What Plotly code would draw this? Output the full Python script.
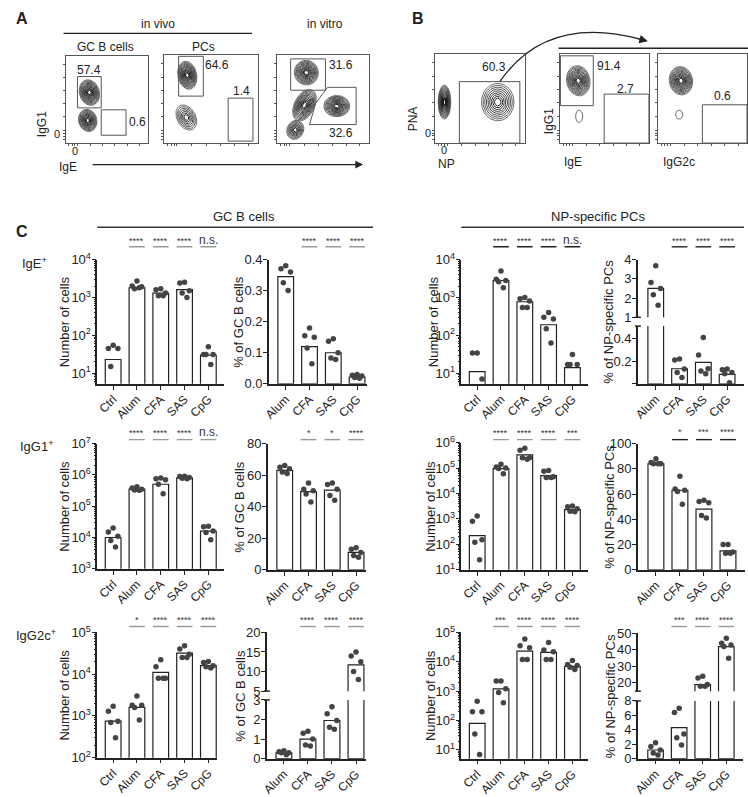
import plotly.graph_objects as go
import numpy as np

W, H = 748, 797
FONT = "Liberation Sans, Arial, sans-serif"

# ------------------------------------------------------------------ data (panel C)
cats5 = ["Ctrl", "Alum", "CFA", "SAS", "CpG"]
cats4 = ["Alum", "CFA", "SAS", "CpG"]

ige_gc_num_bar = [23, 1800, 1300, 1600, 30]
ige_gc_num_pts = [[55, 45, 45, 15, 0], [2700, 2000, 1900, 1700, 1800],
                  [1700, 1600, 1300, 1100, 1100], [2500, 2400, 1500, 1300, 1000],
                  [50, 31, 31, 31, 17]]
ige_gc_pct_bar = [0.345, 0.12, 0.10, 0.022]
ige_gc_pct_pts = [[0.38, 0.37, 0.36, 0.325, 0.30], [0.18, 0.155, 0.15, 0.115, 0.065],
                  [0.145, 0.137, 0.10, 0.083, 0.078], [0.03, 0.028, 0.025, 0.02, 0.018]]
ige_np_num_bar = [11, 2800, 770, 190, 14]
ige_np_num_pts = [[34, 34, 7, 0, 0], [5000, 3000, 2800, 2600, 1800],
                  [1000, 930, 800, 540, 540], [400, 300, 270, 150, 63],
                  [31, 17, 17, 17, 0]]
ige_np_pct_bar = [2.5, 0.133, 0.19, 0.084]
ige_np_pct_pts = [[3.68, 2.81, 2.5, 2.17, 1.63], [0.22, 0.21, 0.13, 0.10, 0.055],
                  [0.41, 0.255, 0.133, 0.113, 0.09], [0.13, 0.125, 0.10, 0.09, 0.01]]

igg1_gc_num_bar = [10000, 350000, 500000, 800000, 16000]
igg1_gc_num_pts = [[20000, 15000, 11000, 8000, 5000], [420000, 380000, 350000, 330000, 320000],
                   [800000, 750000, 700000, 500000, 250000], [900000, 880000, 820000, 780000, 750000],
                   [23000, 22000, 16000, 14500, 8500]]
igg1_gc_pct_bar = [63, 49.5, 50.5, 11]
igg1_gc_pct_pts = [[66, 65, 64, 62, 61], [55, 51, 50, 48, 43],
                   [55, 54, 51, 47, 44], [14, 13, 11, 9, 8]]
igg1_np_num_bar = [220, 95000, 330000, 50000, 2300]
igg1_np_num_pts = [[1300, 800, 150, 120, 25], [140000, 110000, 100000, 95000, 60000],
                   [600000, 500000, 250000, 250000, 220000], [80000, 75000, 45000, 42000, 42000],
                   [3200, 3000, 2500, 2000, 1900]]
igg1_np_pct_bar = [84, 63, 48, 15]
igg1_np_pct_pts = [[88, 85, 84, 84, 84], [74, 64, 63, 62, 52],
                   [55, 54, 53, 43, 41], [20, 20, 14, 13, 13]]

igg2c_gc_num_bar = [750, 1600, 11000, 32000, 16000]
igg2c_gc_num_pts = [[1700, 1300, 750, 700, 300], [3000, 1800, 1800, 1600, 800],
                    [22000, 15000, 8000, 8000, 8000], [48000, 40000, 30000, 25000, 25000],
                    [20000, 19000, 16000, 15000, 14000]]
igg2c_gc_pct_bar = [0.3, 1.0, 1.95, 11.7]
igg2c_gc_pct_pts = [[0.4, 0.35, 0.3, 0.3, 0.2], [1.4, 1.3, 1.0, 0.7, 0.65],
                    [2.65, 2.3, 1.95, 1.6, 1.5], [15, 14, 12.5, 10, 8]]
igg2c_np_num_bar = [80, 1200, 23000, 21000, 7000]
igg2c_np_num_pts = [[450, 200, 200, 35, 7], [2200, 2200, 1200, 900, 400],
                    [60000, 35000, 30000, 12000, 12000], [45000, 25000, 22000, 12000, 12000],
                    [11000, 8000, 7500, 6500, 5500]]
igg2c_np_pct_bar = [1.2, 4.3, 19, 42]
igg2c_np_pct_pts = [[2.2, 1.7, 1.2, 0.8, 0.5], [7.0, 6.4, 3.4, 2.9, 1.9],
                    [24, 23, 19, 18, 18], [47, 44, 43, 42, 35]]

sig_r1_gc_num = ["****", "****", "****", "n.s."]
sig_r1_gc_pct = ["****", "****", "****"]
sig_r1_np_num = ["****", "****", "****", "n.s."]
sig_r1_np_pct = ["****", "****", "****"]
sig_r2_gc_num = ["****", "****", "****", "n.s."]
sig_r2_gc_pct = ["*", "*", "****"]
sig_r2_np_num = ["****", "****", "****", "***"]
sig_r2_np_pct = ["*", "***", "****"]
sig_r3_gc_num = ["*", "****", "****", "****"]
sig_r3_gc_pct = ["****", "****", "****"]
sig_r3_np_num = ["***", "****", "****", "****"]
sig_r3_np_pct = ["***", "****", "****"]

# ------------------------------------------------------------------ data (flow panels A/B)
# populations: (x, y, rx, ry, tilt_deg, nlevels) in panel-normalised units
flow_A_gc_pops = [(0.29, 0.58, 0.12, 0.15, 20, 13), (0.27, 0.26, 0.11, 0.13, 20, 12)]
flow_A_pc_pops = [(0.25, 0.77, 0.10, 0.16, 10, 13), (0.24, 0.29, 0.10, 0.15, 25, 7)]
flow_A_vitro_pops = [(0.32, 0.80, 0.13, 0.14, 10, 12), (0.30, 0.43, 0.11, 0.19, -25, 12),
                     (0.65, 0.42, 0.14, 0.12, 0, 12), (0.20, 0.15, 0.09, 0.11, -20, 8)]
flow_B_np_pops = [(0.11, 0.46, 0.07, 0.19, 0, 14), (0.70, 0.46, 0.18, 0.21, 0, 9)]
flow_B_ige_pops = [(0.21, 0.70, 0.13, 0.17, 10, 12), (0.22, 0.30, 0.04, 0.07, 0, 1)]
flow_B_igg2c_pops = [(0.26, 0.70, 0.13, 0.16, 10, 12), (0.24, 0.32, 0.04, 0.05, 0, 1)]

flow_A_gc_gates = [(0.145, 0.404, 0.434, 0.764), (0.434, 0.09, 0.735, 0.382)]
flow_A_pc_gates = [(0.158, 0.533, 0.42, 0.985), (0.684, 0.022, 0.947, 0.51)]
flow_A_vitro_gates = [(0.15, 0.60, 0.527, 0.956)]
flow_A_vitro_polys = [[(0.355, 0.21), (0.86, 0.21), (0.86, 0.633), (0.55, 0.633), (0.42, 0.45)]]
flow_B_np_gates = [(0.275, 0.0, 0.945, 0.69)]
flow_B_ige_gates = [(0.01, 0.42, 0.378, 0.98), (0.50, 0.0, 1.0, 0.55)]
flow_B_igg2c_gates = [(0.50, 0.0, 1.0, 0.43)]

flow_A_gc_labels = [("57.4", 0.29, 0.84), ("0.6", 0.88, 0.24)]
flow_A_pc_labels = [("64.6", 0.57, 0.89), ("1.4", 0.82, 0.59)]
flow_A_vitro_labels = [("31.6", 0.70, 0.89), ("32.6", 0.70, 0.11)]
flow_B_np_labels = [("60.3", 0.66, 0.85)]
flow_B_ige_labels = [("91.4", 0.55, 0.87), ("2.7", 0.74, 0.61)]
flow_B_igg2c_labels = [("0.6", 0.73, 0.53)]

# ------------------------------------------------------------------ figure scaffolding
layout = dict(width=W, height=H, margin=dict(l=0, r=0, t=0, b=0),
              paper_bgcolor="white", plot_bgcolor="white", showlegend=False,
              font=dict(family=FONT, size=12, color="#222"))
traces, shapes, annots = [], [], []
counter = [0]


def px(x):
    return x / W


def py(y):
    return 1 - y / H


def new_axes(xpx, ypx, xkw, ykw):
    counter[0] += 1
    i = counter[0]
    xs = "x" if i == 1 else f"x{i}"
    ys = "y" if i == 1 else f"y{i}"
    layout["xaxis" if i == 1 else f"xaxis{i}"] = dict(domain=[px(xpx[0]), px(xpx[1])], anchor=ys,
                                                      fixedrange=True, showgrid=False, zeroline=False, **xkw)
    layout["yaxis" if i == 1 else f"yaxis{i}"] = dict(domain=[py(ypx[1]), py(ypx[0])], anchor=xs,
                                                      fixedrange=True, showgrid=False, zeroline=False, **ykw)
    return xs, ys


def text(t, x, y, size=12, angle=0, xanchor="center", yanchor="middle", color="#222", bold=False):
    if bold:
        t = f"<b>{t}</b>"
    annots.append(dict(text=t, x=px(x), y=py(y), xref="paper", yref="paper", showarrow=False,
                       font=dict(size=size, color=color, family=FONT), textangle=angle,
                       xanchor=xanchor, yanchor=yanchor))


def hline(x0, x1, y, color="#222", width=1.2):
    shapes.append(dict(type="line", xref="paper", yref="paper", x0=px(x0), x1=px(x1),
                       y0=py(y), y1=py(y), line=dict(color=color, width=width)))


def arrow(x_head, y_head, x_tail, y_tail, size=1.2):
    annots.append(dict(x=px(x_head), y=py(y_head), ax=x_tail - x_head, ay=y_tail - y_head,
                       xref="paper", yref="paper", axref="pixel", ayref="pixel", showarrow=True,
                       arrowhead=2, arrowsize=size, arrowwidth=1.3, arrowcolor="#222", text=""))


# ------------------------------------------------------------------ flow panels
flow_ticks = [0.04, 0.08, 0.11, 0.14, 0.3, 0.45, 0.6, 0.75, 0.9]


def flow_panel(xpx, ypx, pops, gates, labels, polys=()):
    ax = dict(range=[0, 1], showline=True, mirror=True, linecolor="#555", linewidth=1,
              ticks="outside", ticklen=2, tickcolor="#555", tickvals=flow_ticks, showticklabels=False)
    xs, ys = new_axes(xpx, ypx, dict(ax), dict(ax))
    t = np.linspace(0, 2 * np.pi, 60)
    for (cx, cy, rx, ry, tilt, nl) in pops:
        a = np.deg2rad(tilt)
        for k in range(nl):
            s = 1.0 - k / max(nl, 1) * 0.9
            ex = rx * s * np.cos(t)
            ey = ry * s * np.sin(t)
            xx = cx + ex * np.cos(a) - ey * np.sin(a)
            yy = cy + ex * np.sin(a) + ey * np.cos(a)
            g = int(90 - 85 * k / max(nl - 1, 1))
            traces.append(go.Scatter(x=xx, y=yy, mode="lines", xaxis=xs, yaxis=ys,
                                     line=dict(color=f"rgb({g},{g},{g})", width=0.9),
                                     hoverinfo="skip"))
    for (x0, y0, x1, y1) in gates:
        shapes.append(dict(type="rect", xref=xs, yref=ys, x0=x0, y0=y0, x1=x1, y1=y1,
                           line=dict(color="#555", width=1)))
    for poly in polys:
        path = "M " + " L ".join(f"{p[0]},{p[1]}" for p in poly) + " Z"
        shapes.append(dict(type="path", xref=xs, yref=ys, path=path, line=dict(color="#555", width=1)))
    for (lab, lx, ly) in labels:
        annots.append(dict(text=lab, x=lx, y=ly, xref=xs, yref=ys, showarrow=False,
                           font=dict(size=12, family=FONT, color="#222")))


flow_panel((60, 143), (48, 137), flow_A_gc_pops, flow_A_gc_gates, flow_A_gc_labels)
flow_panel((159, 254), (47, 137), flow_A_pc_pops, flow_A_pc_gates, flow_A_pc_labels)
flow_panel((273, 366), (47, 137), flow_A_vitro_pops, flow_A_vitro_gates, flow_A_vitro_labels,
           flow_A_vitro_polys)
flow_panel((432, 523), (46, 137), flow_B_np_pops, flow_B_np_gates, flow_B_np_labels)
flow_panel((558, 648), (46, 137), flow_B_ige_pops, flow_B_ige_gates, flow_B_ige_labels)
flow_panel((657, 747), (46, 137), flow_B_igg2c_pops, flow_B_igg2c_gates, flow_B_igg2c_labels)

# panel A texts
text("A", 8, 10, size=16, xanchor="left", bold=True)
text("in vivo", 153, 15, size=12)
hline(58, 248, 25, color="#222", width=1.2)
text("in vitro", 322, 15, size=12)
text("GC B cells", 100, 39, size=12)
text("PCs", 199, 39, size=12)
text("IgG1", 37, 118, size=12, angle=-90)
text("0", 51, 128, size=11)
text("0", 70, 145, size=11)
text("IgE", 62, 161, size=12)
arrow(360, 159, 88, 159)

# panel B texts
text("B", 407, 10, size=16, xanchor="left", bold=True)
text("PNA", 410, 112, size=12, angle=-90)
text("0", 425, 127, size=11)
text("0", 442, 144, size=11)
text("NP", 444, 158, size=12)
text("IgG1", 547, 115, size=12, angle=-90)
text("IgE", 572, 156, size=12)
text("IgG2c", 678, 156, size=12)
hline(557, 748, 40, color="#222", width=1.5)
shapes.append(dict(type="path", xref="paper", yref="paper",
                   path=f"M {px(498)},{py(74)} Q {px(545)},{py(5)} {px(640)},{py(31)}",
                   line=dict(color="#222", width=1.3)))
arrow(647, 33, 636, 30, size=1.3)

# ------------------------------------------------------------------ bar panels (C)
OFFS = [0.0, -0.2, 0.2, -0.1, 0.1]
AXC = "#222"


def logticks(lo, hi):
    vals = [10 ** k for k in range(lo, hi + 1)]
    txt = [f"10<sup>{k}</sup>" for k in range(lo, hi + 1)]
    return vals, txt


def bar_panel(xpx, xrng, cats, bars, pts, seg, sig, sig_col, sig_ypx, ytitle, ytitle_x):
    """seg: list of dicts (bottom segment first): ypx, type, range, tickvals, ticktext"""
    idx = list(range(len(cats)))
    axes_list = []
    for si, sg in enumerate(seg):
        bottom = si == 0
        xkw = dict(range=xrng, tickvals=idx, ticktext=cats if bottom else None,
                   showticklabels=bottom, tickangle=-45, ticks="outside" if bottom else "",
                   ticklen=4, tickwidth=1.3, tickcolor=AXC, showline=bottom, linecolor=AXC,
                   linewidth=1.5, tickfont=dict(size=12, family=FONT, color="#222"),
                   ticklabelstandoff=-2)
        ykw = dict(type=sg["type"], range=sg["range"], tickvals=sg["tickvals"], ticktext=sg["ticktext"],
                   ticks="outside", ticklen=4, tickwidth=1.3, tickcolor=AXC, showline=True,
                   linecolor=AXC, linewidth=1.5, tickfont=dict(size=13, family=FONT, color="#222"),
                   ticklabelstandoff=-2)
        if sg["type"] == "log":
            ykw["minor"] = dict(ticks="outside", ticklen=2, tickcolor=AXC, dtick="D1", showgrid=False)
        xs, ys = new_axes(xpx, sg["ypx"], xkw, ykw)
        axes_list.append((xs, ys, sg))
        traces.append(go.Bar(x=idx, y=bars, width=0.66, xaxis=xs, yaxis=ys,
                             marker=dict(color="white", line=dict(color="#222", width=1.2)),
                             hoverinfo="skip"))
    # points
    for sgi, (xs, ys, sg) in enumerate(axes_list):
        dx, dy, zx, zy = [], [], [], []
        lo, hi = sg["range"]
        if sg["type"] == "log":
            lo, hi = 10 ** lo, 10 ** hi
        for i, grp in enumerate(pts):
            for j, v in enumerate(grp):
                if v == 0:
                    if sgi == 0:
                        zx.append(i + OFFS[j] * 0.6)
                        zy.append(lo)
                    continue
                if sgi == 0:
                    in_seg = v <= hi or len(axes_list) == 1
                else:
                    in_seg = v > axes_list[0][2]["top"]
                if in_seg:
                    dx.append(i + OFFS[j])
                    dy.append(v)
        traces.append(go.Scatter(x=dx, y=dy, mode="markers", xaxis=xs, yaxis=ys,
                                 marker=dict(size=5.5, color="#444"), hoverinfo="skip",
                                 cliponaxis=False))
        if zx:
            traces.append(go.Scatter(x=zx, y=zy, mode="markers", xaxis=xs, yaxis=ys,
                                     marker=dict(size=5, symbol="x-thin-open", line=dict(color="#444", width=1.2)),
                                     hoverinfo="skip", cliponaxis=False))
    # break marks
    if len(seg) > 1:
        ax_x = xpx[0]
        hline(ax_x - 3, ax_x + 3, seg[0]["ypx"][0], color=AXC, width=1.5)
        hline(ax_x - 3, ax_x + 3, seg[1]["ypx"][1], color=AXC, width=1.5)
    # significance
    xs0 = axes_list[0][0]
    offset = len(cats) - len(sig)
    for k, s in enumerate(sig):
        i = k + offset
        is_ns = s == "n.s."
        annots.append(dict(text=s, x=i, y=py(sig_ypx[0] - (1 if is_ns else 0)), xref=xs0, yref="paper",
                           showarrow=False, font=dict(size=12 if is_ns else 9, family=FONT, color="#333"),
                           yanchor="middle"))
        shapes.append(dict(type="line", xref=xs0, yref="paper", x0=i - 0.33, x1=i + 0.33,
                           y0=py(sig_ypx[1]), y1=py(sig_ypx[1]), line=dict(color=sig_col, width=1.4)))
    # y title
    text(ytitle, ytitle_x, (seg[-1]["ypx"][0] + seg[0]["ypx"][1]) / 2, size=13, angle=-90)


GRAY = "#999"
BLACK = "#222"
X5 = (-0.667, 4.667)
X4 = (-0.708, 3.42)
X4n = (-0.75, 3.71)

# ---- row 1 (IgE+)
v, t = logticks(1, 4)
bar_panel((92, 220), X5, cats5, ige_gc_num_bar, ige_gc_num_pts,
          [dict(ypx=(256, 383), type="log", range=[0.72, 4], tickvals=v, ticktext=t)],
          sig_r1_gc_num, GRAY, (237, 243), "Number of cells", 59)
bar_panel((265, 364), X4, cats4, ige_gc_pct_bar, ige_gc_pct_pts,
          [dict(ypx=(256, 383), type="linear", range=[0, 0.4], tickvals=[0, 0.1, 0.2, 0.3, 0.4],
                ticktext=["0.0", "0.1", "0.2", "0.3", "0.4"])],
          sig_r1_gc_pct, GRAY, (237, 243), "% of GC B cells", 235)
bar_panel((459, 587), X5, cats5, ige_np_num_bar, ige_np_num_pts,
          [dict(ypx=(256, 383), type="log", range=[0.72, 4], tickvals=v, ticktext=t)],
          sig_r1_np_num, BLACK, (237, 243), "Number of cells", 431)
bar_panel((637, 744), X4n, cats4, ige_np_pct_bar, ige_np_pct_pts,
          [dict(ypx=(324, 383), type="linear", range=[0, 0.51], tickvals=[0, 0.2, 0.4],
                ticktext=["", "0.2", "0.4"], top=0.51),
           dict(ypx=(256, 315), type="linear", range=[1, 4], tickvals=[1, 2, 3, 4],
                ticktext=["1", "2", "3", "4"], top=4)],
          sig_r1_np_pct, BLACK, (237, 243), "% of NP-specific PCs", 608)

# ---- row 2 (IgG1+)
v, t = logticks(3, 7)
bar_panel((92, 220), X5, cats5, igg1_gc_num_bar, igg1_gc_num_pts,
          [dict(ypx=(444, 572), type="log", range=[3, 7], tickvals=v, ticktext=t)],
          sig_r2_gc_num, GRAY, (433, 440), "Number of cells", 59)
bar_panel((264, 363), X4, cats4, igg1_gc_pct_bar, igg1_gc_pct_pts,
          [dict(ypx=(444, 573), type="linear", range=[0, 80], tickvals=[0, 20, 40, 60, 80],
                ticktext=["0", "20", "40", "60", "80"])],
          sig_r2_gc_pct, GRAY, (433, 440), "% of GC B cells", 236)
v, t = logticks(1, 6)
bar_panel((459, 587), X5, cats5, igg1_np_num_bar, igg1_np_num_pts,
          [dict(ypx=(443, 573), type="log", range=[1, 6], tickvals=v, ticktext=t)],
          sig_r2_np_num, GRAY, (433, 440), "Number of cells", 428)
bar_panel((637, 745), X4n, cats4, igg1_np_pct_bar, igg1_np_pct_pts,
          [dict(ypx=(444, 573), type="linear", range=[0, 100], tickvals=[0, 20, 40, 60, 80, 100],
                ticktext=["0", "20", "40", "60", "80", "100"])],
          sig_r2_np_pct, BLACK, (432, 440), "% of NP-specific PCs", 609)

# ---- row 3 (IgG2c+)
v, t = logticks(2, 5)
bar_panel((92, 213), (-0.667, 4.375), cats5, igg2c_gc_num_bar, igg2c_gc_num_pts,
          [dict(ypx=(637, 765), type="log", range=[2, 5], tickvals=v, ticktext=t)],
          sig_r3_gc_num, GRAY, (624, 631), "Number of cells", 59)
bar_panel((263, 363), X4, cats4, igg2c_gc_pct_bar, igg2c_gc_pct_pts,
          [dict(ypx=(706, 766), type="linear", range=[0, 3], tickvals=[0, 1, 2, 3],
                ticktext=["0", "1", "2", "3"], top=3),
           dict(ypx=(637, 697), type="linear", range=[5, 20], tickvals=[5, 10, 15, 20],
                ticktext=["5", "10", "15", "20"], top=20)],
          sig_r3_gc_pct, GRAY, (624, 631), "% of GC B cells", 236)
v, t = logticks(1, 5)
bar_panel((459, 587), X5, cats5, igg2c_np_num_bar, igg2c_np_num_pts,
          [dict(ypx=(637, 766), type="log", range=[0.7, 5], tickvals=v, ticktext=t)],
          sig_r3_np_num, GRAY, (624, 631), "Number of cells", 428)
bar_panel((637, 743), X4n, cats4, igg2c_np_pct_bar, igg2c_np_pct_pts,
          [dict(ypx=(707, 766), type="linear", range=[0, 8], tickvals=[0, 2, 4, 6, 8],
                ticktext=["0", "2", "4", "6", "8"], top=8),
           dict(ypx=(638, 697), type="linear", range=[15, 50], tickvals=[20, 30, 40, 50],
                ticktext=["20", "30", "40", "50"], top=50)],
          sig_r3_np_pct, GRAY, (624, 631), "% of NP-specific PCs", 609)

# panel C headers
text("C", 8, 227, size=16, xanchor="left", bold=True)
text("GC B cells", 240, 212, size=13)
hline(92, 370, 223, color="#333", width=1.5)
text("NP-specific PCs", 597, 212, size=13)
hline(459, 744, 223, color="#333", width=1.5)
text("IgE<sup>+</sup>", 14, 260, size=13, xanchor="left")
text("IgG1<sup>+</sup>", 12, 447, size=13, xanchor="left")
text("IgG2c<sup>+</sup>", 8, 640, size=13, xanchor="left")

layout["shapes"] = shapes
layout["annotations"] = annots
fig = go.Figure(data=traces, layout=layout)
fig.write_html("out.html", config={"displayModeBar": False},
               post_script="document.body.style.margin='0';")
